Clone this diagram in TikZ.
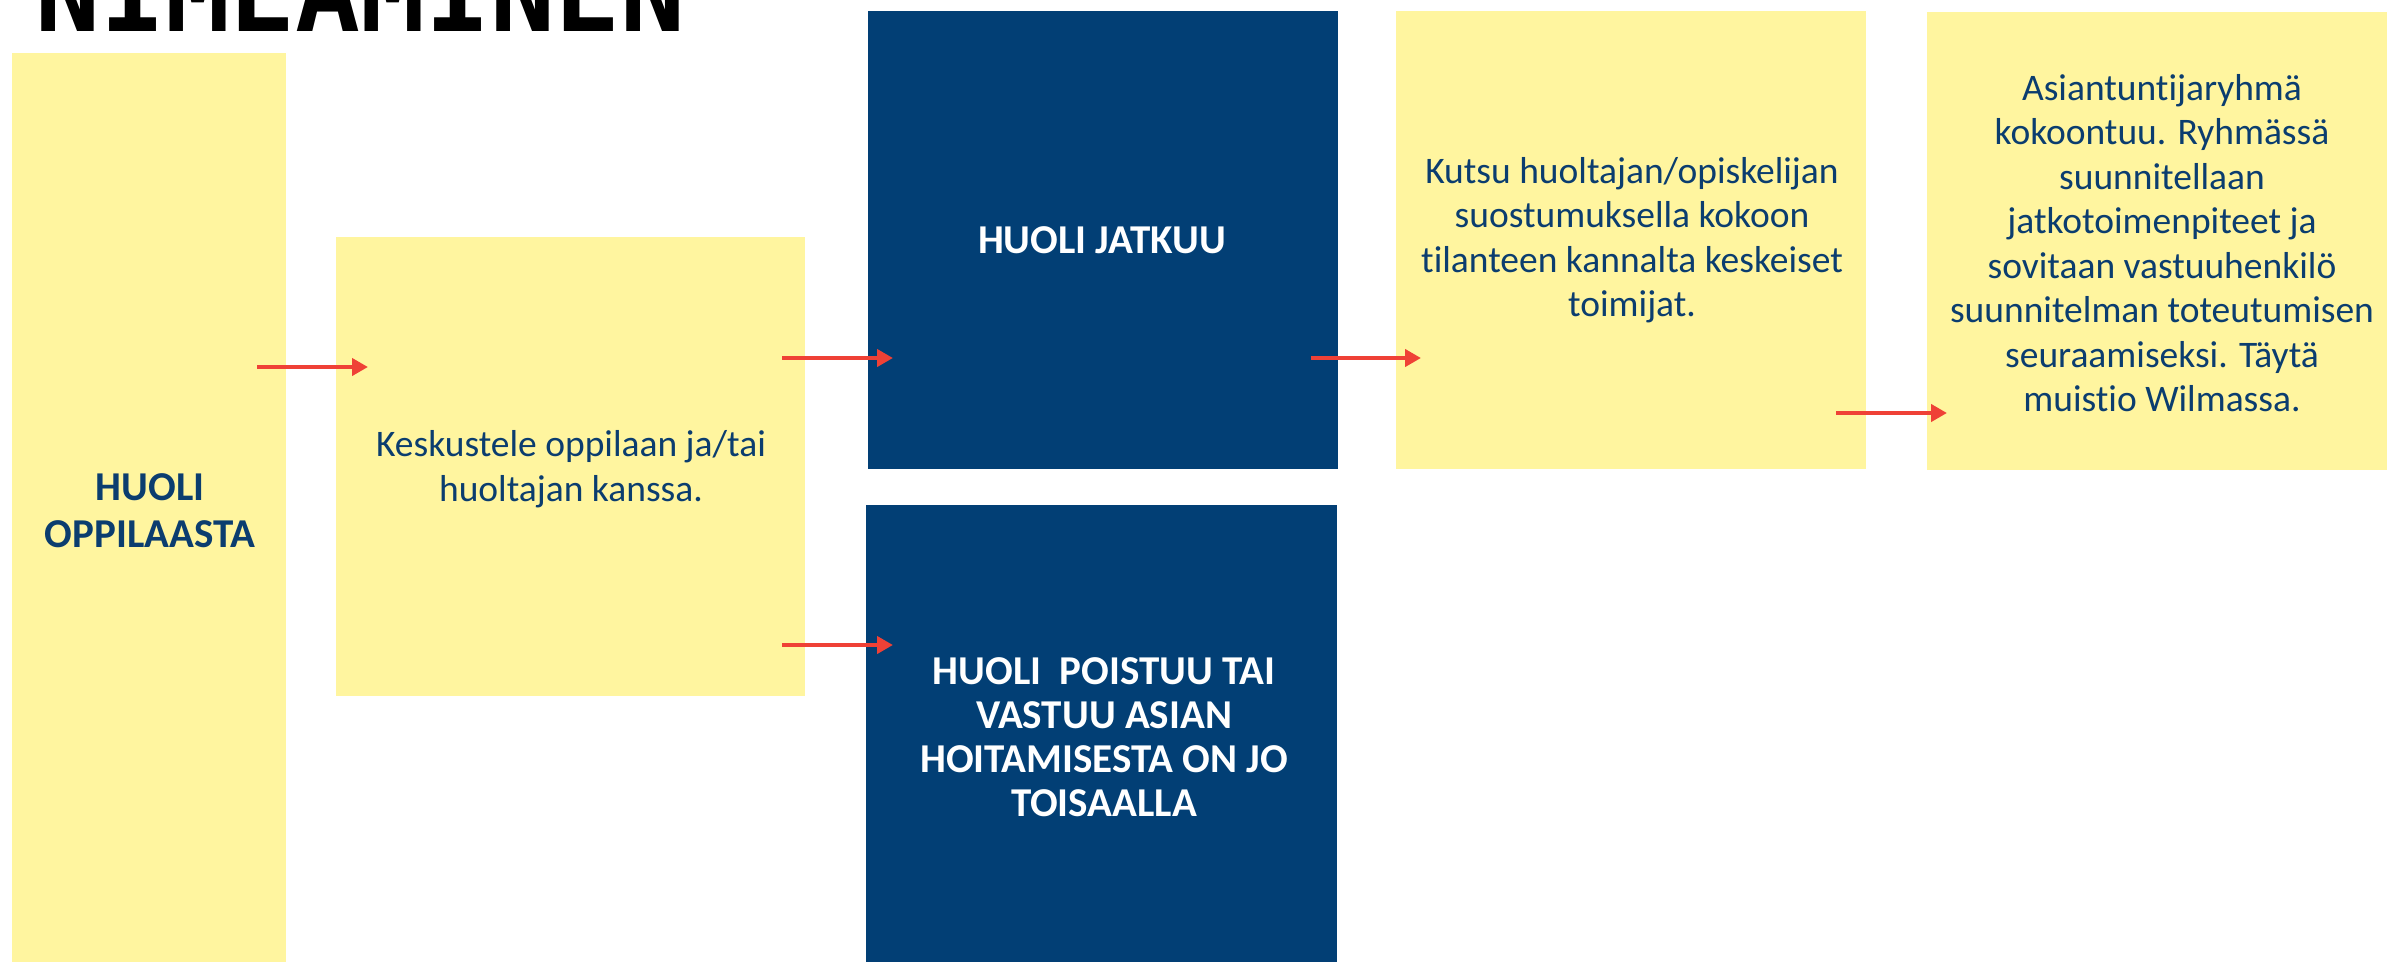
\documentclass[tikz,border=0pt]{standalone}
\usepackage{fontspec}
\setmainfont[Ligatures={NoCommon}]{Carlito}
\newfontfamily\titlefont{DejaVu Sans Mono}
\usetikzlibrary{arrows.meta}
\definecolor{boxyellow}{HTML}{FFF59F}
\definecolor{boxnavy}{HTML}{023F75}
\definecolor{txtnavy}{HTML}{0B3D6F}
\definecolor{arrred}{HTML}{EF4136}
\tikzset{
  ytext/.style={text=txtnavy, align=center, font=\fontsize{37.5}{44.5}\selectfont},
  ybold/.style={text=txtnavy, align=center, font=\fontsize{41}{47}\selectfont\bfseries},
  ntext/.style={text=white, align=center, font=\fontsize{41}{44}\selectfont\bfseries},
  redarrow/.style={draw=arrred, line width=4pt, -{Triangle[length=16pt,width=17pt]}},
}
\begin{document}
\begin{tikzpicture}[x=1pt,y=-1pt]
\useasboundingbox (0,0) rectangle (2387,962);
% title (cut off at top)
\node[anchor=base west, inner sep=0pt, font=\titlefont\bfseries\fontsize{108}{108}\selectfont] (title) at (35,31) {NIMEÄMINEN};
% boxes
\fill[boxyellow] (12,53) rectangle (286,962);
\fill[boxyellow] (336,237) rectangle (805,696);
\fill[boxnavy] (868,11) rectangle (1338,469);
\fill[boxnavy] (866,505) rectangle (1337,962);
\fill[boxyellow] (1396,11) rectangle (1866,469);
\fill[boxyellow] (1927,12) rectangle (2387,470);
% texts
\node[ybold] (t1) at (150,511) {HUOLI\\OPPILAASTA};
\node[ytext] (t2) at (571,469) {Keskustele oppilaan ja/tai\\huoltajan kanssa.};
\node[ntext] (t3) at (1102,240) {HUOLI JATKUU};
\node[ntext] (t4) at (1104,737) {HUOLI\ \ POISTUU TAI\\VASTUU ASIAN\\HOITAMISESTA ON JO\\TOISAALLA};
\node[ytext] (t5) at (1632,240) {Kutsu huoltajan/opiskelijan\\suostumuksella kokoon\\tilanteen kannalta keskeiset\\toimijat.};
\node[ytext] (t6) at (2162,243) {Asiantuntijaryhmä\\kokoontuu. Ryhmässä\\suunnitellaan\\jatkotoimenpiteet ja\\sovitaan vastuuhenkilö\\suunnitelman toteutumisen\\seuraamiseksi. Täytä\\muistio Wilmassa.};
% arrows
\coordinate (a1s) at (257,367); \coordinate (a1e) at (368,367);
\coordinate (a2s) at (782,358); \coordinate (a2e) at (893,358);
\coordinate (a3s) at (782,645); \coordinate (a3e) at (893,645);
\coordinate (a4s) at (1311,358); \coordinate (a4e) at (1421,358);
\coordinate (a5s) at (1836,413); \coordinate (a5e) at (1947,413);
\draw[redarrow] (a1s) -- (a1e);
\draw[redarrow] (a2s) -- (a2e);
\draw[redarrow] (a3s) -- (a3e);
\draw[redarrow] (a4s) -- (a4e);
\draw[redarrow] (a5s) -- (a5e);
\end{tikzpicture}
\end{document}
